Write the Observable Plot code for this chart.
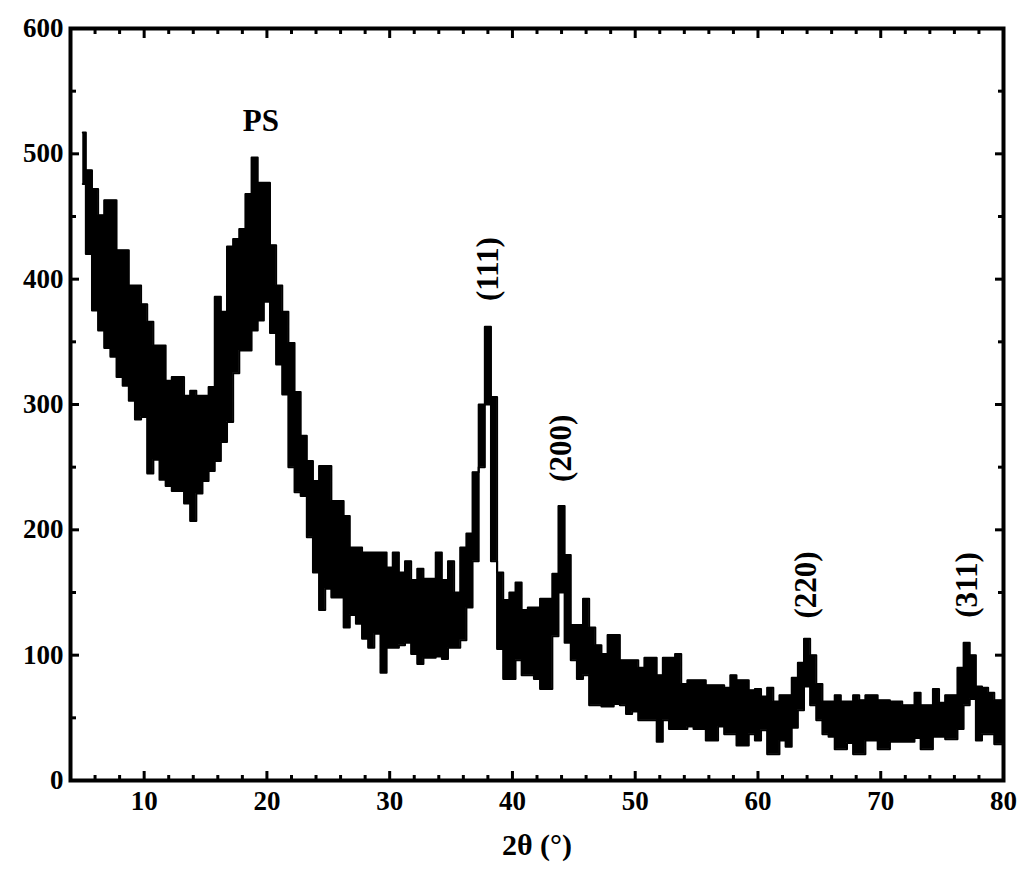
<!DOCTYPE html>
<html>
<head>
<meta charset="utf-8">
<script src="https://cdn.jsdelivr.net/npm/d3@7"></script>
<script src="https://cdn.jsdelivr.net/npm/@observablehq/plot@0.6"></script>
<style>
  html, body { margin: 0; padding: 0; background: #fff; }
  #chart svg { display: block; }
</style>
</head>
<body>
<div id="chart"></div>
<script>
// 2θ sampling positions (degrees)
const twoTheta = [
  5.0,5.5,6.0,6.5,7.0,7.5,8.0,8.5,9.0,9.5,10.0,10.5,11.0,11.5,12.0,12.5,13.0,13.5,14.0,14.5,
  15.0,15.5,16.0,16.5,17.0,17.5,18.0,18.5,19.0,19.5,20.0,20.5,21.0,21.5,22.0,22.5,23.0,23.5,24.0,24.5,
  25.0,25.5,26.0,26.5,27.0,27.5,28.0,28.5,29.0,29.5,30.0,30.5,31.0,31.5,32.0,32.5,33.0,33.5,34.0,34.5,
  35.0,35.5,36.0,36.5,37.0,37.5,38.0,38.5,39.0,39.5,40.0,40.5,41.0,41.5,42.0,42.5,43.0,43.5,44.0,44.5,
  45.0,45.5,46.0,46.5,47.0,47.5,48.0,48.5,49.0,49.5,50.0,50.5,51.0,51.5,52.0,52.5,53.0,53.5,54.0,54.5,
  55.0,55.5,56.0,56.5,57.0,57.5,58.0,58.5,59.0,59.5,60.0,60.5,61.0,61.5,62.0,62.5,63.0,63.5,64.0,64.5,
  65.0,65.5,66.0,66.5,67.0,67.5,68.0,68.5,69.0,69.5,70.0,70.5,71.0,71.5,72.0,72.5,73.0,73.5,74.0,74.5,
  75.0,75.5,76.0,76.5,77.0,77.5,78.0,78.5,79.0,79.5,80.0
];
// upper edge of the noisy intensity trace (counts)
const intensityHigh = [
  517,487,472,451,463,463,423,423,395,395,380,366,347,347,319,322,322,307,311,307,
  307,314,386,374,426,432,440,468,497,477,477,427,395,374,349,310,275,255,239,251,
  251,223,223,211,186,186,182,182,182,182,170,182,166,175,160,169,161,161,182,160,
  175,150,186,197,246,300,362,306,166,144,150,158,136,138,138,145,145,165,219,180,
  124,124,145,122,108,101,116,116,96,96,96,90,98,98,84,98,98,101,77,80,
  80,80,76,76,76,74,84,80,80,72,73,67,74,63,68,68,82,94,113,100,
  77,63,63,68,63,63,68,64,68,68,64,64,63,63,60,60,70,60,60,73,
  62,68,68,90,110,100,75,74,70,64,64
];
// lower edge of the noisy intensity trace (counts)
const intensityLow = [
  476,420,375,359,345,338,322,315,303,288,290,245,256,240,235,231,231,221,207,229,
  239,247,255,270,286,325,343,343,359,367,382,357,332,308,250,230,227,194,166,136,
  153,146,146,122,132,125,113,106,117,86,106,106,108,110,101,93,98,98,99,97,
  106,106,112,138,175,250,300,175,105,81,81,96,84,84,81,73,73,115,150,110,
  96,81,84,60,60,59,59,61,60,53,55,48,48,48,31,48,41,41,41,43,
  41,41,32,32,43,37,37,28,28,37,32,40,21,21,32,27,42,56,75,60,
  48,37,35,25,25,30,21,21,32,32,25,25,31,31,31,31,34,25,25,35,
  35,33,33,41,60,65,32,37,37,29,29
];
// axis ticks
const xMajorTicks = [10,20,30,40,50,60,70,80];
const xMinorTicks = [6,8,12,14,16,18,22,24,26,28,32,34,36,38,42,44,46,48,52,54,56,58,62,64,66,68,72,74,76,78];
const yMajorTicks = [0,100,200,300,400,500,600];
const yMinorTicks = [50,150,250,350,450,550];
// peak annotations
const peakLabels = ["(111)","(200)","(220)","(311)"];
const peakLabelX = [38.0, 43.95, 63.93, 77.0];
const peakLabelY = [408, 265, 156, 156];
const psLabel = "PS";
const psLabelX = 19.5;
const psLabelY = 526;
const xTitle = "2θ (°)";

const data = twoTheta.map((x, i) => ({x, lo: intensityLow[i], hi: intensityHigh[i]}));
const peaks = peakLabels.map((t, i) => ({t, x: peakLabelX[i], y: peakLabelY[i]}));

const font = "'Liberation Serif', 'DejaVu Serif', serif";

const chart = Plot.plot({
  width: 1024,
  height: 875,
  marginLeft: 70,
  marginRight: 21,
  marginTop: 28,
  marginBottom: 95,
  style: {fontFamily: font, fontWeight: "bold", fontSize: "27px", color: "#000", background: "#fff"},
  x: {domain: [4, 80]},
  y: {domain: [0, 600]},
  marks: [
    Plot.areaY(data, {x: "x", y1: "lo", y2: "hi", curve: "step", fill: "#000"}),
    Plot.line(data, {x: "x", y: "hi", curve: "step", stroke: "#000", strokeWidth: 2}),
    Plot.line(data, {x: "x", y: "lo", curve: "step", stroke: "#000", strokeWidth: 2}),
    Plot.frame({stroke: "#000", strokeWidth: 4}),
    // inward ticks on all four sides
    Plot.axisX(xMajorTicks, {anchor: "bottom", tickSize: -9, strokeWidth: 3, text: null, label: null}),
    Plot.axisX(xMinorTicks, {anchor: "bottom", tickSize: -5, strokeWidth: 3, text: null, label: null}),
    Plot.axisX(xMajorTicks, {anchor: "top", tickSize: -9, strokeWidth: 3, text: null, label: null}),
    Plot.axisX(xMinorTicks, {anchor: "top", tickSize: -5, strokeWidth: 3, text: null, label: null}),
    Plot.axisY(yMajorTicks, {anchor: "left", tickSize: -9, strokeWidth: 3, text: null, label: null}),
    Plot.axisY(yMinorTicks, {anchor: "left", tickSize: -6, strokeWidth: 3, text: null, label: null}),
    Plot.axisY(yMajorTicks, {anchor: "right", tickSize: -9, strokeWidth: 3, text: null, label: null}),
    Plot.axisY(yMinorTicks, {anchor: "right", tickSize: -6, strokeWidth: 3, text: null, label: null}),
    // tick labels
    Plot.axisX(xMajorTicks, {anchor: "bottom", tickSize: 0, tickPadding: 10, label: null, fontSize: 27}),
    Plot.axisY(yMajorTicks, {anchor: "left", tickSize: 0, tickPadding: 7, label: null, fontSize: 27}),
    // axis title
    Plot.text([xTitle], {frameAnchor: "bottom", dy: 74, fontSize: 30, fontWeight: "bold", fontFamily: font}),
    // annotations
    Plot.text(peaks, {x: "x", y: "y", text: "t", rotate: -90, fontSize: 31, fontWeight: "bold", fontFamily: font}),
    Plot.text([psLabel], {x: psLabelX, y: psLabelY, fontSize: 31, fontWeight: "bold", fontFamily: font})
  ]
});
document.getElementById("chart").appendChild(chart);
</script>
</body>
</html>
